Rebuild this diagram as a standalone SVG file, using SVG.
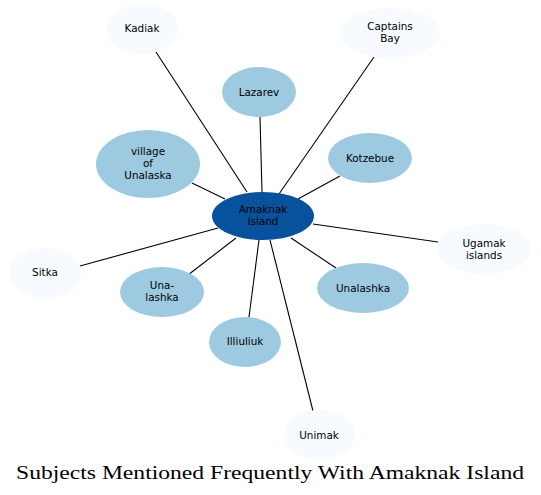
<svg xmlns="http://www.w3.org/2000/svg" width="541" height="495" viewBox="0 0 541 495">
<style>
.n text{font-family:"DejaVu Sans",sans-serif;font-size:10.4px;fill:#000;text-anchor:middle}
.c0{fill:#08519c}
.c1{fill:#9ecae1}
.c2{fill:#f7fbff}
#edges line{stroke:#000;stroke-width:1.1}
.title{font-family:"Liberation Serif",serif;font-size:19px;text-anchor:middle;fill:#000}
</style>
<rect width="541" height="495" fill="#fff"/>
<g id="edges">
<line x1="156" y1="52" x2="247" y2="192"/>
<line x1="260" y1="117" x2="262" y2="192"/>
<line x1="374" y1="57" x2="279" y2="194"/>
<line x1="192" y1="183" x2="225" y2="199"/>
<line x1="340" y1="176" x2="298" y2="199"/>
<line x1="438" y1="242" x2="313" y2="224"/>
<line x1="80" y1="266" x2="218" y2="228"/>
<line x1="188" y1="275" x2="236" y2="238"/>
<line x1="249" y1="317" x2="259" y2="240"/>
<line x1="336" y1="268" x2="291" y2="238"/>
<line x1="313" y1="411" x2="270" y2="240"/>
</g>
<g id="amaknak" class="n"><ellipse class="c0" cx="263" cy="216" rx="51" ry="24"/><text x="263" y="213">Amaknak</text><text x="263" y="225">Island</text></g>
<g id="kadiak" class="n"><ellipse class="c2" cx="142" cy="29" rx="36" ry="25"/><text x="142" y="32">Kadiak</text></g>
<g id="captains-bay" class="n"><ellipse class="c2" cx="390" cy="33" rx="50" ry="25"/><text x="390" y="30">Captains</text><text x="390" y="42">Bay</text></g>
<g id="lazarev" class="n"><ellipse class="c1" cx="259" cy="92" rx="37" ry="25"/><text x="259" y="96">Lazarev</text></g>
<g id="village" class="n"><ellipse class="c1" cx="148" cy="164" rx="52" ry="34"/><text x="148" y="155">village</text><text x="148" y="167">of</text><text x="148" y="179">Unalaska</text></g>
<g id="kotzebue" class="n"><ellipse class="c1" cx="370" cy="158" rx="42" ry="25"/><text x="370" y="162">Kotzebue</text></g>
<g id="ugamak" class="n"><ellipse class="c2" cx="484" cy="249" rx="47" ry="25"/><text x="484" y="247">Ugamak</text><text x="484" y="259">islands</text></g>
<g id="sitka" class="n"><ellipse class="c2" cx="45" cy="273" rx="36" ry="25"/><text x="45" y="276">Sitka</text></g>
<g id="una-lashka" class="n"><ellipse class="c1" cx="162" cy="292" rx="42" ry="25"/><text x="162" y="289">Una-</text><text x="162" y="301">lashka</text></g>
<g id="unalashka" class="n"><ellipse class="c1" cx="363" cy="288" rx="46" ry="25"/><text x="363" y="292">Unalashka</text></g>
<g id="illiuliuk" class="n"><ellipse class="c1" cx="245" cy="342" rx="36" ry="25"/><text x="245" y="345">Illiuliuk</text></g>
<g id="unimak" class="n"><ellipse class="c2" cx="319" cy="435" rx="36" ry="25"/><text x="319" y="439">Unimak</text></g>
<text class="title" x="270" y="479" textLength="508" lengthAdjust="spacingAndGlyphs">Subjects Mentioned Frequently With Amaknak Island</text>
</svg>
